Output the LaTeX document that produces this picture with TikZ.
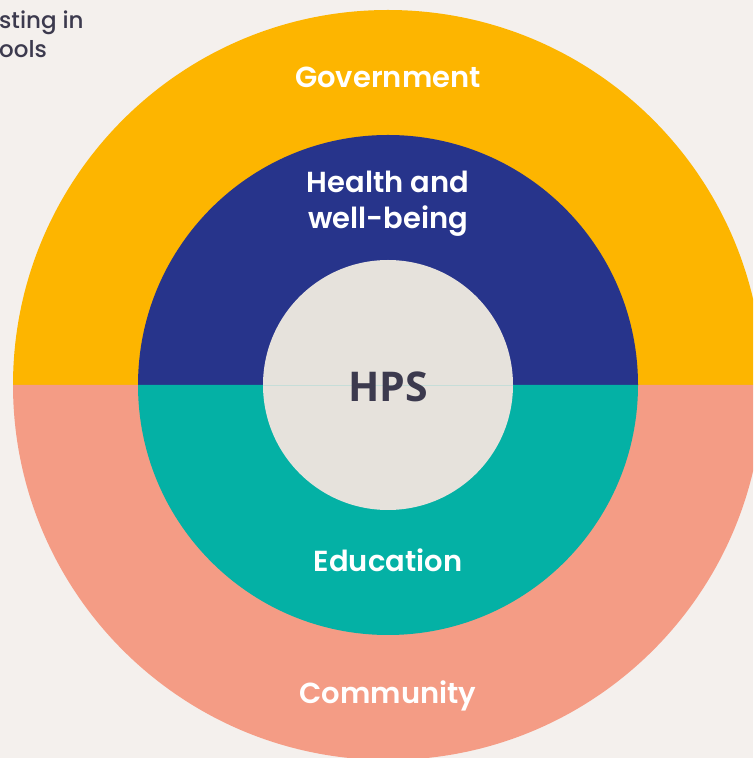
\documentclass[tikz,border=0pt]{standalone}
\usepackage{fontspec}
\setmainfont{Poppins}[BoldFont={Poppins SemiBold}]
\newfontfamily\popmed{Poppins Medium}
\newfontfamily\hpsfont{Open Sans}
\definecolor{bgc}{HTML}{F4F0ED}
\definecolor{govc}{HTML}{FDB500}
\definecolor{healthc}{HTML}{27348B}
\definecolor{educ}{HTML}{04B1A5}
\definecolor{commc}{HTML}{F49C85}
\definecolor{innerc}{HTML}{E6E2DC}
\definecolor{darktext}{HTML}{3C3A4E}
\definecolor{seamc}{HTML}{C6DDD8}
\begin{document}
\begin{tikzpicture}[x=1pt,y=1pt,
  ringlabel/.style={text=white,font=\bfseries\fontsize{29}{36}\selectfont,align=center,inner sep=0pt},
  cornertext/.style={text=darktext,font=\popmed\fontsize{23}{29}\selectfont,align=left,inner sep=0pt,anchor=north west}]
\useasboundingbox (0,0) rectangle (753,758);
\fill[bgc] (0,0) rectangle (753,758);
\begin{scope}
\clip (0,0) rectangle (753,758);
\coordinate (c) at (388,373);
% outer ring halves
\fill[govc] (13,373) arc[start angle=180,end angle=0,radius=375] -- cycle;
\fill[commc] (13,373) arc[start angle=180,end angle=360,radius=375] -- cycle;
% middle ring halves
\fill[healthc] (138,373) arc[start angle=180,end angle=0,radius=250] -- cycle;
\fill[educ] (138,373) arc[start angle=180,end angle=360,radius=250] -- cycle;
% inner circle
\node[circle,fill=innerc,minimum size=250pt,inner sep=0pt] (hpscircle) at (c) {};
\draw[seamc,line width=0.8pt] (hpscircle.west) -- (hpscircle.east);
\node[cornertext] (corner) at (-1,747) {sting in\\ools};
\end{scope}
\node[text=darktext,font=\hpsfont\bfseries\fontsize{41}{45}\selectfont,inner sep=0pt] (hps) at (388,371) {HPS};
\node[ringlabel] (gov) at (388,681) {Government};
\node[ringlabel] (health) at (388,554) {Health and\\well-being};
\node[ringlabel] (edu) at (388,198) {Education};
\node[ringlabel] (comm) at (388,62) {Community};
\end{tikzpicture}
\end{document}
